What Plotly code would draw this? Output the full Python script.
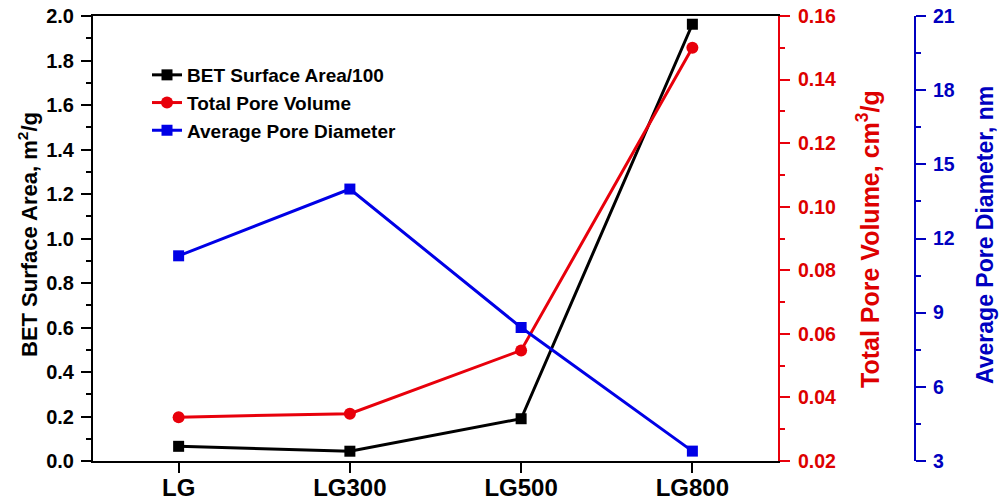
import plotly.graph_objects as go

# Sample labels
samples = ["LG", "LG300", "LG500", "LG800"]

# BET surface area divided by 100 (m2/g)
bet_area = [0.066, 0.044, 0.19, 1.963]
# Total pore volume (cm3/g)
pore_volume = [0.0338, 0.0349, 0.0548, 0.150]
# Average pore diameter (nm)
pore_diameter = [11.3, 14.0, 8.4, 3.4]

BLACK = "#000000"
RED = "#E8000B"
RED_TXT = "#DD0000"
BLUE = "#0000E6"
BLUE_TXT = "#0000C0"
FONT = "Liberation Sans"

W, H = 1000, 502
L, R, T, B = 93, 0, 16, 41
PW, PH = W - L - R, H - T - B


def px(xp):
    return (xp - L) / PW


def py(yp):
    return (H - B - yp) / PH


fig = go.Figure()

fig.add_trace(go.Scatter(
    x=samples, y=bet_area, name="BET Surface Area/100",
    mode="lines+markers", yaxis="y",
    line=dict(color=BLACK, width=3),
    marker=dict(symbol="square", size=11, color=BLACK),
))
fig.add_trace(go.Scatter(
    x=samples, y=pore_volume, name="Total Pore Volume",
    mode="lines+markers", yaxis="y2",
    line=dict(color=RED, width=3),
    marker=dict(symbol="circle", size=12, color=RED),
))
fig.add_trace(go.Scatter(
    x=samples, y=pore_diameter, name="Average Pore Diameter",
    mode="lines+markers", yaxis="y3",
    line=dict(color=BLUE, width=3),
    marker=dict(symbol="square", size=11, color=BLUE),
))

bold = lambda size, color=BLACK: dict(family=FONT, size=size, color=color, weight="bold")

fig.update_layout(
    width=W, height=H,
    margin=dict(l=L, r=R, t=T, b=B, pad=0, autoexpand=False),
    paper_bgcolor="white", plot_bgcolor="white",
    showlegend=True,
    legend=dict(
        x=px(147), y=py(56), xanchor="left", yanchor="top",
        font=bold(19), bgcolor="rgba(0,0,0,0)", borderwidth=0,
        tracegroupgap=0,
    ),
    xaxis=dict(
        domain=[0, px(778)], automargin=False,
        type="category", range=[-0.5, 3.5],
        showline=True, linecolor=BLACK, linewidth=2, mirror=True,
        ticks="outside", ticklen=10, tickwidth=2, tickcolor=BLACK,
        tickfont=bold(24), ticklabelstandoff=-6,
        showgrid=False, zeroline=False,
    ),
    yaxis=dict(
        range=[0, 2.0], dtick=0.2, tick0=0, tickformat=".1f", automargin=False,
        showline=True, linecolor=BLACK, linewidth=2,
        ticks="outside", ticklen=10, tickwidth=2, tickcolor=BLACK,
        minor=dict(dtick=0.1, ticks="outside", ticklen=5, tickwidth=2, tickcolor=BLACK),
        tickfont=bold(20), ticklabelstandoff=3,
        showgrid=False, zeroline=False,
    ),
    yaxis2=dict(
        range=[0.02, 0.16], dtick=0.02, tick0=0.02, tickformat=".2f", automargin=False,
        overlaying="y", side="right", anchor="x",
        showline=True, linecolor=RED, linewidth=2,
        ticks="outside", ticklen=10, tickwidth=2, tickcolor=RED,
        minor=dict(dtick=0.01, ticks="outside", ticklen=5, tickwidth=2, tickcolor=RED),
        tickfont=bold(19.5, RED_TXT), ticklabelstandoff=4,
        showgrid=False, zeroline=False,
    ),
    yaxis3=dict(
        range=[3, 21], dtick=3, tick0=3, automargin=False,
        overlaying="y", side="right", anchor="free", position=px(915),
        showline=True, linecolor=BLUE_TXT, linewidth=2,
        ticks="outside", ticklen=10, tickwidth=2, tickcolor=BLUE_TXT,
        minor=dict(dtick=1.5, ticks="outside", ticklen=5, tickwidth=2, tickcolor=BLUE_TXT),
        tickfont=bold(19.5, BLUE_TXT), ticklabelstandoff=3,
        showgrid=False, zeroline=False,
    ),
    annotations=[
        dict(text="BET Surface Area, m<sup>2</sup>/g", textangle=-90,
             x=px(28), y=py(235), xref="paper", yref="paper",
             xanchor="center", yanchor="middle", showarrow=False, font=bold(22)),
        dict(text="Total Pore Volume, cm<sup>3</sup>/g", textangle=-90,
             x=px(868), y=py(239), xref="paper", yref="paper",
             xanchor="center", yanchor="middle", showarrow=False, font=bold(25, RED_TXT)),
        dict(text="Average Pore Diameter, nm", textangle=-90,
             x=px(985), y=py(235), xref="paper", yref="paper",
             xanchor="center", yanchor="middle", showarrow=False, font=bold(23, BLUE_TXT)),
    ],
)

fig.write_html("out.html")
